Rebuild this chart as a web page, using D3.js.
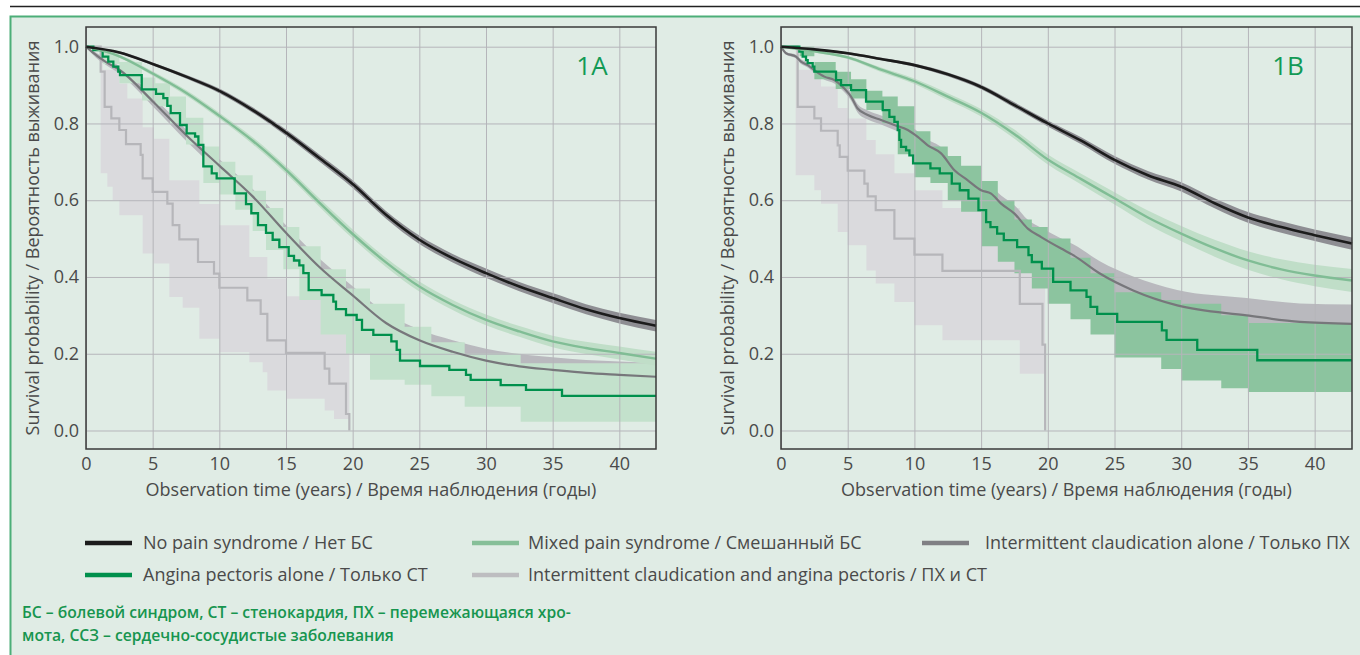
<!DOCTYPE html>
<html>
<head>
<meta charset="utf-8">
<script src="https://cdn.jsdelivr.net/npm/d3@7"></script>
<style>
  body { margin: 0; background: #fff; }
  svg { display: block; }
</style>
</head>
<body>
<div id="chart"></div>
<script>
// ---- axis ticks ----
const xTicks = [0, 5, 10, 15, 20, 25, 30, 35, 40];
const yTicks = [0, 0.2, 0.4, 0.6, 0.8, 1.0];

const legendLabels = [
    'No pain syndrome / Нет БС',
    'Mixed pain syndrome / Смешанный БС',
    'Intermittent claudication alone / Только ПХ',
    'Angina pectoris alone / Только СТ',
    'Intermittent claudication and angina pectoris / ПХ и СТ'
];

// time grid shared by the smooth curves (years)
const smoothT = [0, 2.5, 5, 7.5, 10, 12.5, 15, 17.5, 20, 22.5, 25, 27.5, 30, 32.5, 35, 37.5, 40, 42.8];

// ---- panel 1A ----
const noPainA = [1.0, 0.985, 0.955, 0.922, 0.885, 0.835, 0.776, 0.71, 0.642, 0.562, 0.497, 0.449, 0.41, 0.375, 0.345, 0.316, 0.293, 0.273];
const noPainA_ci = [0, 0.003, 0.004, 0.005, 0.006, 0.007, 0.008, 0.009, 0.01, 0.01, 0.011, 0.011, 0.012, 0.012, 0.013, 0.013, 0.014, 0.015];
const mixedA = [1.0, 0.975, 0.93, 0.88, 0.82, 0.755, 0.679, 0.594, 0.512, 0.438, 0.375, 0.327, 0.288, 0.258, 0.232, 0.215, 0.202, 0.187];
const mixedA_ci = [0, 0.004, 0.006, 0.007, 0.008, 0.009, 0.01, 0.011, 0.012, 0.012, 0.013, 0.013, 0.014, 0.014, 0.015, 0.016, 0.017, 0.018];

const icAloneA_t = [0, 0.5, 1.5, 2.5, 5, 7.5, 10, 12.5, 15, 17.5, 20, 22.5, 25, 27.5, 30, 32.5, 35, 37.5, 40, 42.8];
const icAloneA = [1.0, 0.985, 0.96, 0.94, 0.858, 0.77, 0.69, 0.61, 0.515, 0.426, 0.352, 0.28, 0.235, 0.205, 0.182, 0.167, 0.158, 0.15, 0.145, 0.14];
const icAloneA_ci = [0, 0.005, 0.008, 0.01, 0.013, 0.015, 0.017, 0.019, 0.02, 0.022, 0.024, 0.026, 0.028, 0.03, 0.031, 0.032, 0.033, 0.034, 0.035, 0.036];

const anginaA_t = [0, 0.55, 1.25, 1.67, 2.05, 2.42, 2.55, 4.18, 5.25, 5.8, 6.1, 6.35, 7.05, 7.55, 8.18, 8.43, 8.8,
    9.43, 9.8, 11.15, 12.0, 12.4, 12.9, 13.5, 14.0, 14.5, 15.2, 15.6, 16.0, 16.3, 16.7, 17.67, 18.55, 18.75, 19.5,
    20.3, 20.7, 21.55, 22.9, 23.3, 23.55, 25.05, 27.25, 28.5, 28.85, 31.1, 33.0, 35.7, 42.75];
const anginaA = [1.0, 0.991, 0.974, 0.961, 0.948, 0.935, 0.926, 0.889, 0.877, 0.866, 0.846, 0.827, 0.796, 0.774, 0.766, 0.744, 0.688,
    0.67, 0.657, 0.618, 0.59, 0.566, 0.535, 0.515, 0.497, 0.478, 0.455, 0.443, 0.43, 0.41, 0.366, 0.353, 0.336, 0.316, 0.301,
    0.288, 0.262, 0.249, 0.232, 0.21, 0.182, 0.168, 0.158, 0.145, 0.132, 0.118, 0.106, 0.09, 0.09];
const anginaA_bt = [0, 1.3, 2.5, 4.2, 5.2, 6.3, 7.5, 8.8, 10, 11.2, 12.5, 13.5, 14.8, 16, 17.6, 19.5, 21.3, 23.9, 25.9, 28.4, 32.6, 42.75];
const anginaA_lo = [1.0, 0.955, 0.905, 0.86, 0.845, 0.80, 0.745, 0.645, 0.615, 0.575, 0.52, 0.47, 0.42, 0.34, 0.25, 0.20, 0.132, 0.119, 0.089, 0.062, 0.023, 0.023];
const anginaA_hi = [1.0, 0.99, 0.96, 0.92, 0.905, 0.87, 0.815, 0.74, 0.70, 0.665, 0.625, 0.58, 0.53, 0.48, 0.42, 0.37, 0.33, 0.27, 0.23, 0.20, 0.175, 0.165];

const icapA_t = [0, 1.1, 1.4, 1.9, 2.5, 3.0, 4.1, 4.25, 5.0, 6.1, 6.5, 7.0, 8.4, 9.6, 10.0, 12.1, 13.1, 13.6, 15.0, 17.9, 18.25, 19.5, 19.75];
const icapA = [1.0, 0.935, 0.843, 0.813, 0.783, 0.746, 0.718, 0.657, 0.622, 0.591, 0.535, 0.498, 0.439, 0.409, 0.372, 0.339, 0.304, 0.235, 0.202, 0.161, 0.122, 0.043, 0];
const icapA_bt = [0, 1.1, 1.25, 1.6, 2.0, 2.5, 3.1, 4.25, 5.1, 6.25, 7.25, 8.5, 10, 12.25, 13.25, 13.6, 15, 17.9, 18.6, 19.75];
const icapA_lo = [1.0, 0.67, 0.67, 0.635, 0.60, 0.561, 0.561, 0.461, 0.435, 0.348, 0.32, 0.239, 0.204, 0.178, 0.152, 0.104, 0.083, 0.052, 0.03, 0];
const icapA_hi = [1.0, 1.0, 0.94, 0.94, 0.94, 0.904, 0.865, 0.79, 0.76, 0.652, 0.652, 0.59, 0.535, 0.452, 0.452, 0.396, 0.35, 0.30, 0.29, 0];

// ---- panel 1B ----
const noPainB = [1.0, 0.993, 0.983, 0.968, 0.952, 0.928, 0.895, 0.848, 0.80, 0.755, 0.705, 0.665, 0.635, 0.592, 0.555, 0.53, 0.509, 0.487];
const noPainB_ci = [0, 0.002, 0.003, 0.003, 0.004, 0.005, 0.006, 0.007, 0.008, 0.009, 0.01, 0.011, 0.012, 0.013, 0.014, 0.015, 0.015, 0.016];
const mixedB = [1.0, 0.988, 0.972, 0.94, 0.91, 0.87, 0.828, 0.772, 0.706, 0.655, 0.605, 0.555, 0.513, 0.475, 0.443, 0.42, 0.404, 0.391];
const mixedB_ci = [0, 0.003, 0.004, 0.006, 0.007, 0.009, 0.01, 0.012, 0.013, 0.014, 0.016, 0.018, 0.02, 0.022, 0.024, 0.026, 0.028, 0.03];

const icAloneB_t = [0, 0.375, 1.125, 1.5, 2.0, 2.5, 3.25, 4.0, 4.75, 5.25, 5.75, 6.5, 7.5, 8.5, 9.5, 10.25, 11, 12, 13, 14,
    15, 15.75, 16.5, 17.5, 18.5, 19.5, 21, 21.9, 23.9, 26.4, 29.7, 34.9, 38.9, 42.8];
const icAloneB = [1.0, 0.983, 0.974, 0.961, 0.952, 0.939, 0.922, 0.913, 0.891, 0.87, 0.839, 0.822, 0.809, 0.796, 0.783, 0.765, 0.743, 0.722, 0.678, 0.652,
    0.626, 0.617, 0.591, 0.565, 0.526, 0.504, 0.474, 0.457, 0.409, 0.365, 0.326, 0.30, 0.283, 0.278];
const icAloneB_ci = [0, 0.003, 0.005, 0.006, 0.006, 0.007, 0.008, 0.009, 0.01, 0.01, 0.011, 0.012, 0.012, 0.013, 0.014, 0.014, 0.015, 0.016, 0.017, 0.018,
    0.02, 0.02, 0.021, 0.022, 0.023, 0.024, 0.026, 0.028, 0.032, 0.036, 0.04, 0.045, 0.048, 0.05];

const anginaB_t = [0, 1.375, 1.625, 1.875, 2.0, 2.375, 2.5, 4.125, 4.5, 5.25, 6.375, 7.625, 8.125, 8.5, 8.75, 8.875, 9.0, 9.375, 9.625, 9.9,
    11.2, 11.9, 12.8, 13.4, 14.05, 14.8, 15.375, 15.7, 16.2, 16.7, 17.7, 18.55, 18.8, 19.55, 20.4, 21.7, 22.9, 23.2, 23.7, 25.2,
    28.55, 28.9, 31.2, 35.7, 42.8];
const anginaB = [1.0, 0.987, 0.974, 0.965, 0.957, 0.948, 0.935, 0.913, 0.9, 0.887, 0.857, 0.835, 0.817, 0.804, 0.783, 0.757, 0.739, 0.73, 0.717, 0.696,
    0.683, 0.67, 0.643, 0.626, 0.604, 0.574, 0.543, 0.53, 0.513, 0.496, 0.478, 0.457, 0.439, 0.422, 0.387, 0.365, 0.348, 0.322, 0.304, 0.283,
    0.261, 0.236, 0.21, 0.183, 0.183];
const anginaB_bt = [0, 1.4, 2.5, 4.1, 5.25, 6.4, 7.6, 8.75, 10, 11.2, 12.5, 13.5, 15, 16.25, 17.5, 18.8, 20, 21.7, 23.2, 25, 28.5, 30, 33, 35, 42.8];
const anginaB_lo = [1.0, 0.975, 0.915, 0.89, 0.865, 0.835, 0.80, 0.72, 0.66, 0.645, 0.60, 0.57, 0.48, 0.44, 0.41, 0.37, 0.33, 0.29, 0.25, 0.19, 0.16, 0.13, 0.11, 0.10, 0.085];
const anginaB_hi = [1.0, 1.0, 0.96, 0.935, 0.915, 0.885, 0.87, 0.845, 0.78, 0.74, 0.715, 0.69, 0.65, 0.60, 0.55, 0.53, 0.50, 0.45, 0.41, 0.36, 0.34, 0.33, 0.30, 0.28, 0.275];

const icapB_t = [0, 1.25, 2.5, 3.0, 4.25, 4.4, 5.0, 6.25, 6.5, 7.1, 8.5, 10.0, 12.1, 17.9, 19.6, 19.8];
const icapB = [1.0, 0.843, 0.813, 0.781, 0.743, 0.713, 0.677, 0.643, 0.61, 0.574, 0.50, 0.458, 0.416, 0.33, 0.224, 0];
const icapB_bt = [0, 1.1, 1.25, 2.5, 3.0, 4.25, 5.0, 6.4, 7.1, 8.5, 10.0, 12.1, 17.9, 19.5, 19.8];
const icapB_lo = [1.0, 0.665, 0.665, 0.626, 0.591, 0.517, 0.483, 0.417, 0.383, 0.335, 0.274, 0.235, 0.148, 0.148, 0];
const icapB_hi = [1.0, 1.0, 0.94, 0.94, 0.896, 0.84, 0.813, 0.757, 0.72, 0.67, 0.626, 0.58, 0.45, 0.42, 0];

const footnoteLines = [
    'БС – болевой синдром, СТ – стенокардия, ПХ – перемежающаяся хро-',
    'мота, ССЗ – сердечно-сосудистые заболевания'
];

// ---- helpers to turn the arrays into rows ----
const rows = (t, s) => t.map((d, i) => ({ t: d, s: s[i] }));
const ciRows = (t, s, ci) => t.map((d, i) => ({ t: d, lo: s[i] - ci[i], hi: s[i] + ci[i] }));
const bandRows = (t, lo, hi) => t.map((d, i) => ({ t: d, lo: lo[i], hi: hi[i] }));
const clipT = (t, max) => t.map(d => Math.min(d, max));

const FONT = '"Open Sans", "Noto Sans", sans-serif';
const TEXT = '#4a4a4a';
const FS = 18;

const colors = {
    noPain: { line: '#1c1c1c', band: '#8e8e93', w: 2.6 },
    mixed: { line: '#80bd95', band: '#c0dec8', w: 2.4 },
    icAlone: { line: '#77777b', band: '#b9b9be', w: 2.2 },
    angina: { line: '#00904c', w: 2.3 },
    icap: { line: '#b6b6ba', band: '#dadadd', w: 2.2 }
};

const panels = [
    {
        label: '1A', left: 86, right: 656, tMax: 42.75, anginaBand: '#c3e1cc',
        icapBand: bandRows(icapA_bt, icapA_lo, icapA_hi),
        anginaBandRows: bandRows(anginaA_bt, anginaA_lo, anginaA_hi),
        icAloneBand: ciRows(clipT(icAloneA_t, 42.75), icAloneA, icAloneA_ci),
        mixedBand: ciRows(clipT(smoothT, 42.75), mixedA, mixedA_ci),
        noPainBand: ciRows(clipT(smoothT, 42.75), noPainA, noPainA_ci),
        icap: rows(icapA_t, icapA),
        icAlone: rows(clipT(icAloneA_t, 42.75), icAloneA),
        angina: rows(anginaA_t, anginaA),
        mixed: rows(clipT(smoothT, 42.75), mixedA),
        noPain: rows(clipT(smoothT, 42.75), noPainA)
    },
    {
        label: '1B', left: 781, right: 1352, tMax: 42.8, anginaBand: '#8cc49f',
        icapBand: bandRows(icapB_bt, icapB_lo, icapB_hi),
        anginaBandRows: bandRows(anginaB_bt, anginaB_lo, anginaB_hi),
        icAloneBand: ciRows(icAloneB_t, icAloneB, icAloneB_ci),
        mixedBand: ciRows(smoothT, mixedB, mixedB_ci),
        noPainBand: ciRows(smoothT, noPainB, noPainB_ci),
        icap: rows(icapB_t, icapB),
        icAlone: rows(icAloneB_t, icAloneB),
        angina: rows(anginaB_t, anginaB),
        mixed: rows(smoothT, mixedB),
        noPain: rows(smoothT, noPainB)
    }
];

const width = 1360;
const height = 655;
const plotTop = 27;
const plotBottom = 449;

const svg = d3.select('#chart')
    .append('svg')
    .attr('width', width)
    .attr('height', height)
    .attr('font-family', FONT);

// top rule and the green framed box
svg.append('line')
    .attr('x1', 10).attr('x2', width).attr('y1', 6.5).attr('y2', 6.5)
    .attr('stroke', '#222').attr('stroke-width', 1.6);

svg.append('rect')
    .attr('x', 10.5).attr('y', 16.5)
    .attr('width', width).attr('height', height)
    .attr('fill', '#e0ece5')
    .attr('stroke', '#4cae78').attr('stroke-width', 2);

function drawPanel(p) {
    const x = d3.scaleLinear().domain([0, p.tMax]).range([p.left, p.right]);
    const y = d3.scaleLinear().domain([0, 1]).range([430.5, 46.7]);
    const g = svg.append('g');

    const smoothArea = d3.area().x(d => x(d.t)).y0(d => y(d.lo)).y1(d => y(d.hi)).curve(d3.curveMonotoneX);
    const stepArea = d3.area().x(d => x(d.t)).y0(d => y(d.lo)).y1(d => y(d.hi)).curve(d3.curveStepAfter);
    const smoothLine = d3.line().x(d => x(d.t)).y(d => y(d.s)).curve(d3.curveMonotoneX);
    const stepLine = d3.line().x(d => x(d.t)).y(d => y(d.s)).curve(d3.curveStepAfter);

    // confidence bands (the green band sits over the grey ones)
    g.append('path').attr('d', stepArea(p.icapBand)).attr('fill', colors.icap.band);
    g.append('path').attr('d', smoothArea(p.icAloneBand)).attr('fill', colors.icAlone.band);
    g.append('path').attr('d', stepArea(p.anginaBandRows)).attr('fill', p.anginaBand);
    g.append('path').attr('d', smoothArea(p.mixedBand)).attr('fill', colors.mixed.band);
    g.append('path').attr('d', smoothArea(p.noPainBand)).attr('fill', colors.noPain.band);

    // grid + tick labels
    g.append('g')
        .attr('transform', `translate(0,${plotBottom})`)
        .call(d3.axisBottom(x).tickValues(xTicks).tickSize(-(plotBottom - plotTop)).tickPadding(8).tickFormat(d3.format('d')))
        .call(a => a.select('.domain').remove())
        .call(a => a.selectAll('.tick line').attr('stroke', '#b5b5ba').attr('stroke-width', 1))
        .call(a => a.selectAll('.tick text').attr('fill', TEXT).attr('font-size', FS).attr('font-family', FONT));

    g.append('g')
        .attr('transform', `translate(${p.left},0)`)
        .call(d3.axisLeft(y).tickValues(yTicks).tickSize(-(p.right - p.left)).tickPadding(7).tickFormat(d3.format('.1f')))
        .call(a => a.select('.domain').remove())
        .call(a => a.selectAll('.tick line').attr('stroke', '#b5b5ba').attr('stroke-width', 1))
        .call(a => a.selectAll('.tick text').attr('fill', TEXT).attr('font-size', FS).attr('font-family', FONT));

    // survival curves
    g.append('path').attr('d', stepLine(p.icap)).attr('fill', 'none')
        .attr('stroke', colors.icap.line).attr('stroke-width', colors.icap.w);
    g.append('path').attr('d', smoothLine(p.icAlone)).attr('fill', 'none')
        .attr('stroke', colors.icAlone.line).attr('stroke-width', colors.icAlone.w);
    g.append('path').attr('d', stepLine(p.angina)).attr('fill', 'none')
        .attr('stroke', colors.angina.line).attr('stroke-width', colors.angina.w);
    g.append('path').attr('d', smoothLine(p.mixed)).attr('fill', 'none')
        .attr('stroke', colors.mixed.line).attr('stroke-width', colors.mixed.w);
    g.append('path').attr('d', smoothLine(p.noPain)).attr('fill', 'none')
        .attr('stroke', colors.noPain.line).attr('stroke-width', colors.noPain.w);

    // frame
    g.append('rect')
        .attr('x', p.left).attr('y', plotTop)
        .attr('width', p.right - p.left).attr('height', plotBottom - plotTop)
        .attr('fill', 'none').attr('stroke', '#3a3a3a').attr('stroke-width', 1.5);

    // panel label
    g.append('text')
        .attr('x', p.right - 64).attr('y', 75)
        .attr('text-anchor', 'middle')
        .attr('font-size', 26)
        .attr('fill', '#129a55')
        .text(p.label);

    // axis titles
    g.append('text')
        .attr('x', (p.left + p.right) / 2).attr('y', 496)
        .attr('text-anchor', 'middle')
        .attr('font-size', FS)
        .attr('fill', TEXT)
        .text('Observation time (years) / Время наблюдения (годы)');

    g.append('text')
        .attr('transform', `translate(${p.left - 47},${(plotTop + plotBottom) / 2}) rotate(-90)`)
        .attr('text-anchor', 'middle')
        .attr('font-size', FS)
        .attr('fill', TEXT)
        .text('Survival probability / Вероятность выживания');
}

panels.forEach(drawPanel);

// legend
const legendItems = [
    { label: legendLabels[0], color: '#1c1c1c', lx: 85, tx: 143, y: 543 },
    { label: legendLabels[1], color: '#86bf98', lx: 472, tx: 528, y: 543 },
    { label: legendLabels[2], color: '#808084', lx: 922, tx: 985, y: 543 },
    { label: legendLabels[3], color: '#00904c', lx: 85, tx: 143, y: 575 },
    { label: legendLabels[4], color: '#bdbdc0', lx: 472, tx: 528, y: 575 }
];

const legend = svg.append('g');
legend.selectAll('line')
    .data(legendItems)
    .join('line')
    .attr('x1', d => d.lx).attr('x2', d => d.lx + 47)
    .attr('y1', d => d.y).attr('y2', d => d.y)
    .attr('stroke', d => d.color).attr('stroke-width', 4.5);

legend.selectAll('text')
    .data(legendItems)
    .join('text')
    .attr('x', d => d.tx).attr('y', d => d.y + 6)
    .attr('font-size', FS)
    .attr('fill', TEXT)
    .text(d => d.label);

// footnote
svg.append('g').selectAll('text')
    .data(footnoteLines)
    .join('text')
    .attr('x', 22).attr('y', (d, i) => 618 + i * 23)
    .attr('font-size', 15.7)
    .attr('font-weight', 600)
    .attr('fill', '#17954f')
    .text(d => d);
</script>
</body>
</html>
